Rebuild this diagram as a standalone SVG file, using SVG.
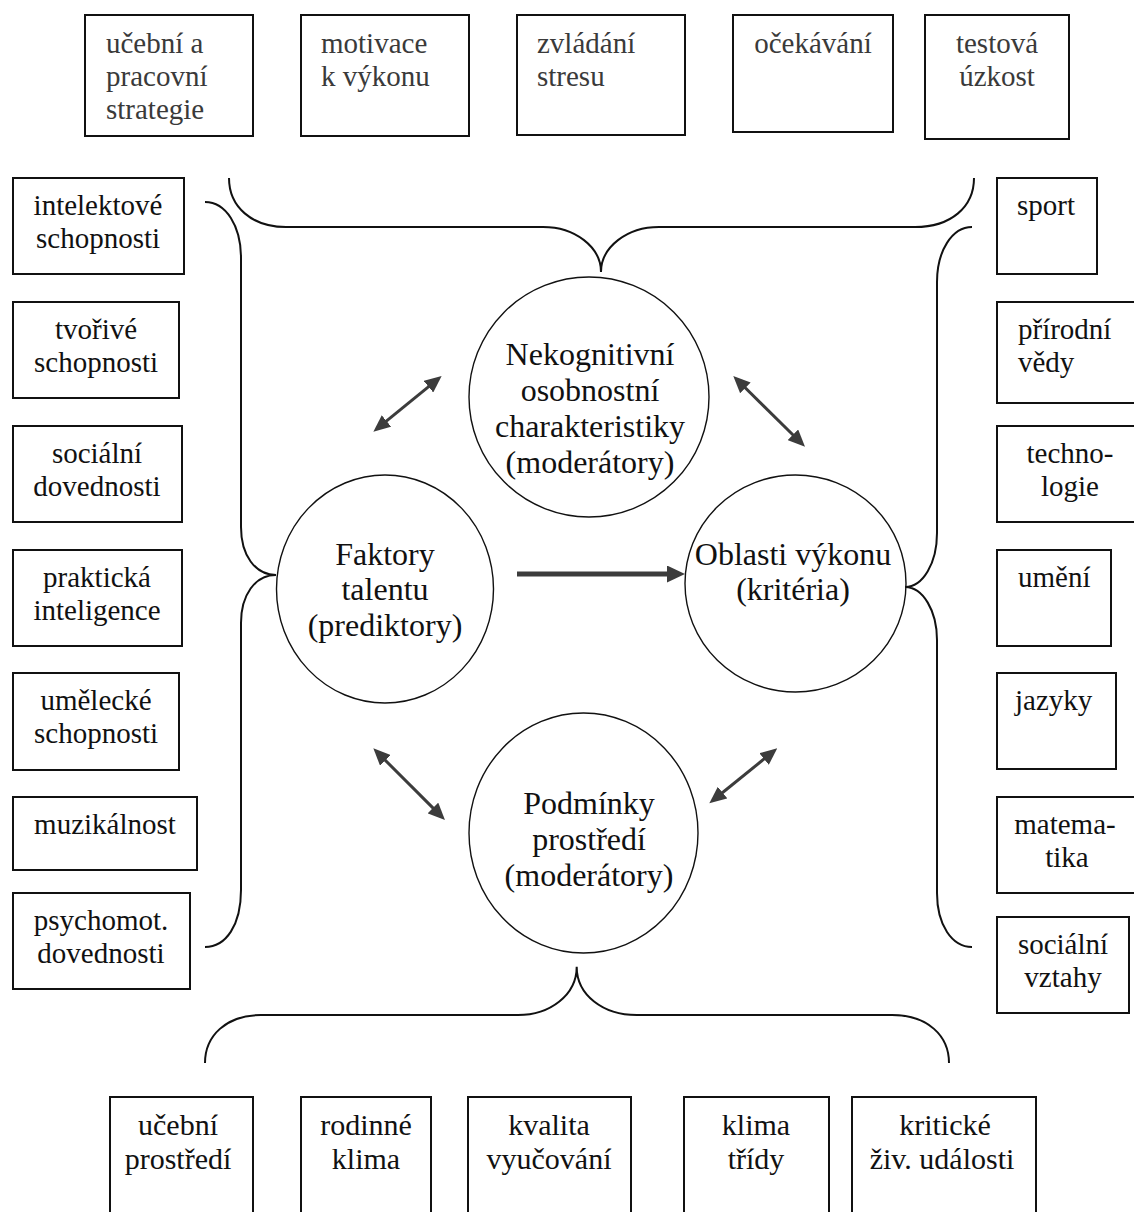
<svg xmlns="http://www.w3.org/2000/svg" width="1134" height="1212" viewBox="0 0 1134 1212">
  <style>
    text { font-family: "Liberation Serif", "Times New Roman", serif; fill: #111; }
    .box { fill: #fff; stroke: #111; stroke-width: 2; }
    .lbl { font-size: 29px; }
    .top { fill: #3a3a3a; }
    .low { font-size: 30px; }
    .mid { text-anchor: middle; }
    .circle { fill: none; stroke: #111; stroke-width: 1.4; }
    .ctext { font-size: 32px; text-anchor: middle; }
    .brace { fill: none; stroke: #111; stroke-width: 2; }
    .dbl { stroke: #3c3c3c; stroke-width: 3; marker-start: url(#head); marker-end: url(#head); }
    .main { stroke: #3c3c3c; stroke-width: 5; marker-end: url(#bighead); }
  </style>
  <defs>
    <marker id="head" markerUnits="userSpaceOnUse" viewBox="0 0 17 15" markerWidth="17" markerHeight="15" refX="7" refY="7.5" orient="auto-start-reverse">
      <path d="M0,0 L17,7.5 L0,15 z" fill="#3c3c3c"/>
    </marker>
    <marker id="bighead" markerUnits="userSpaceOnUse" viewBox="0 0 18 17" markerWidth="18" markerHeight="17" refX="6" refY="8.5" orient="auto">
      <path d="M0,0 L18,8.5 L0,17 z" fill="#3c3c3c"/>
    </marker>
  </defs>

  <!-- upper row: non-cognitive traits -->
  <g id="n-ucebni-strategie">
    <rect class="box" x="85" y="15" width="168" height="121"/>
    <text class="lbl top" x="106" y="53">učební a</text>
    <text class="lbl top" x="106" y="86">pracovní</text>
    <text class="lbl top" x="106" y="119">strategie</text>
  </g>
  <g id="n-motivace">
    <rect class="box" x="301" y="15" width="168" height="121"/>
    <text class="lbl top" x="321" y="53">motivace</text>
    <text class="lbl top" x="321" y="86">k výkonu</text>
  </g>
  <g id="n-stres">
    <rect class="box" x="517" y="15" width="168" height="120"/>
    <text class="lbl top" x="537" y="53">zvládání</text>
    <text class="lbl top" x="537" y="86">stresu</text>
  </g>
  <g id="n-ocekavani">
    <rect class="box" x="733" y="15" width="160" height="117"/>
    <text class="lbl top mid" x="813" y="53">očekávání</text>
  </g>
  <g id="n-uzkost">
    <rect class="box" x="925" y="15" width="144" height="124"/>
    <text class="lbl top mid" x="997" y="53">testová</text>
    <text class="lbl top mid" x="997" y="86">úzkost</text>
  </g>

  <!-- left column: talent factors -->
  <g id="n-intelekt">
    <rect class="box" x="13" y="178" width="171" height="96"/>
    <text class="lbl mid" x="98" y="215">intelektové</text>
    <text class="lbl mid" x="98" y="248">schopnosti</text>
  </g>
  <g id="n-tvorive">
    <rect class="box" x="13" y="302" width="166" height="96"/>
    <text class="lbl mid" x="96" y="339">tvořivé</text>
    <text class="lbl mid" x="96" y="372">schopnosti</text>
  </g>
  <g id="n-socialni-dov">
    <rect class="box" x="13" y="426" width="169" height="96"/>
    <text class="lbl mid" x="97" y="463">sociální</text>
    <text class="lbl mid" x="97" y="496">dovednosti</text>
  </g>
  <g id="n-prakticka">
    <rect class="box" x="13" y="550" width="169" height="96"/>
    <text class="lbl mid" x="97" y="587">praktická</text>
    <text class="lbl mid" x="97" y="620">inteligence</text>
  </g>
  <g id="n-umelecke">
    <rect class="box" x="13" y="673" width="166" height="97"/>
    <text class="lbl mid" x="96" y="710">umělecké</text>
    <text class="lbl mid" x="96" y="743">schopnosti</text>
  </g>
  <g id="n-muzikalnost">
    <rect class="box" x="13" y="797" width="184" height="73"/>
    <text class="lbl mid" x="105" y="834">muzikálnost</text>
  </g>
  <g id="n-psychomot">
    <rect class="box" x="13" y="893" width="177" height="96"/>
    <text class="lbl mid" x="101" y="930">psychomot.</text>
    <text class="lbl mid" x="101" y="963">dovednosti</text>
  </g>

  <!-- right column: performance domains -->
  <g id="n-sport">
    <rect class="box" x="997" y="178" width="100" height="96"/>
    <text class="lbl" x="1017" y="215">sport</text>
  </g>
  <g id="n-prirodni">
    <rect class="box" x="997" y="302" width="145" height="101"/>
    <text class="lbl" x="1018" y="339">přírodní</text>
    <text class="lbl" x="1018" y="372">vědy</text>
  </g>
  <g id="n-technologie">
    <rect class="box" x="997" y="426" width="145" height="96"/>
    <text class="lbl mid" x="1070" y="463">techno-</text>
    <text class="lbl mid" x="1070" y="496">logie</text>
  </g>
  <g id="n-umeni">
    <rect class="box" x="997" y="550" width="114" height="96"/>
    <text class="lbl" x="1018" y="587">umění</text>
  </g>
  <g id="n-jazyky">
    <rect class="box" x="997" y="673" width="119" height="96"/>
    <text class="lbl" x="1015" y="710">jazyky</text>
  </g>
  <g id="n-matematika">
    <rect class="box" x="997" y="797" width="145" height="96"/>
    <text class="lbl mid" x="1065" y="834">matema-</text>
    <text class="lbl mid" x="1067" y="867">tika</text>
  </g>
  <g id="n-vztahy">
    <rect class="box" x="997" y="917" width="132" height="96"/>
    <text class="lbl mid" x="1063" y="954">sociální</text>
    <text class="lbl mid" x="1063" y="987">vztahy</text>
  </g>

  <!-- bottom row: environmental conditions -->
  <g id="n-ucebni-prostredi">
    <rect class="box" x="110" y="1097" width="143" height="125"/>
    <text class="lbl low mid" x="178" y="1135">učební</text>
    <text class="lbl low mid" x="178" y="1169">prostředí</text>
  </g>
  <g id="n-rodinne">
    <rect class="box" x="301" y="1097" width="130" height="125"/>
    <text class="lbl low mid" x="366" y="1135">rodinné</text>
    <text class="lbl low mid" x="366" y="1169">klima</text>
  </g>
  <g id="n-kvalita">
    <rect class="box" x="468" y="1097" width="163" height="125"/>
    <text class="lbl low mid" x="549" y="1135">kvalita</text>
    <text class="lbl low mid" x="549" y="1169">vyučování</text>
  </g>
  <g id="n-klima-tridy">
    <rect class="box" x="684" y="1097" width="145" height="125"/>
    <text class="lbl low mid" x="756" y="1135">klima</text>
    <text class="lbl low mid" x="756" y="1169">třídy</text>
  </g>
  <g id="n-kriticke">
    <rect class="box" x="852" y="1097" width="184" height="125"/>
    <text class="lbl low mid" x="945" y="1135">kritické</text>
    <text class="lbl low mid" x="942" y="1169">živ. události</text>
  </g>

  <!-- central constructs -->
  <g id="c-nekognitivni">
    <circle class="circle" cx="589" cy="397" r="120"/>
    <text class="ctext" x="590" y="365">Nekognitivní</text>
    <text class="ctext" x="590" y="401">osobnostní</text>
    <text class="ctext" x="590" y="437">charakteristiky</text>
    <text class="ctext" x="590" y="473">(moderátory)</text>
  </g>
  <g id="c-faktory">
    <ellipse class="circle" cx="385" cy="589" rx="108.5" ry="114"/>
    <text class="ctext" x="385" y="565">Faktory</text>
    <text class="ctext" x="385" y="600">talentu</text>
    <text class="ctext" x="385" y="636">(prediktory)</text>
  </g>
  <g id="c-oblasti">
    <ellipse class="circle" cx="795.5" cy="583.5" rx="110.5" ry="108.5"/>
    <text class="ctext" x="793" y="565">Oblasti výkonu</text>
    <text class="ctext" x="793" y="600">(kritéria)</text>
  </g>
  <g id="c-podminky">
    <ellipse class="circle" cx="583.5" cy="833" rx="114.5" ry="120"/>
    <text class="ctext" x="589" y="814">Podmínky</text>
    <text class="ctext" x="589" y="850">prostředí</text>
    <text class="ctext" x="589" y="886">(moderátory)</text>
  </g>

  <!-- connectors: grouping braces and arrows -->
  <g id="connectors">
    <path class="brace" d="M229,178 C229,207 252,227 286,227 L543,227 C575,227 601,247 601,272 C601,247 627,227 659,227 L915,227 C951,227 974,207 974,178"/>
    <path class="brace" d="M205,202 C226,202 241,226 241,258 L241,527 C241,555 255,575 276,575 C255,575 241,595 241,623 L241,890 C241,925 226,947 205,947"/>
    <path class="brace" d="M972,227 C952,227 937,251 937,282 L937,533 C937,563 923,587 905,587 C923,587 937,611 937,640 L937,893 C937,925 952,947 972,947"/>
    <path class="brace" d="M205,1063 C205,1036 226,1015 261,1015 L518,1015 C550,1015 576.7,995 576.7,966.7 C576.7,995 603,1015 636.7,1015 L892,1015 C928,1015 949,1036 949,1063"/>

    <line class="dbl" x1="433.9" y1="382.3" x2="381.1" y2="425.4"/>
    <line class="dbl" x1="740.4" y1="383.0" x2="797.9" y2="439.7"/>
    <line class="dbl" x1="380.4" y1="755.4" x2="437.9" y2="812.9"/>
    <line class="dbl" x1="769.5" y1="754.6" x2="717.1" y2="797.0"/>
    <line class="main" x1="517" y1="574" x2="673" y2="574"/>
  </g>
</svg>
